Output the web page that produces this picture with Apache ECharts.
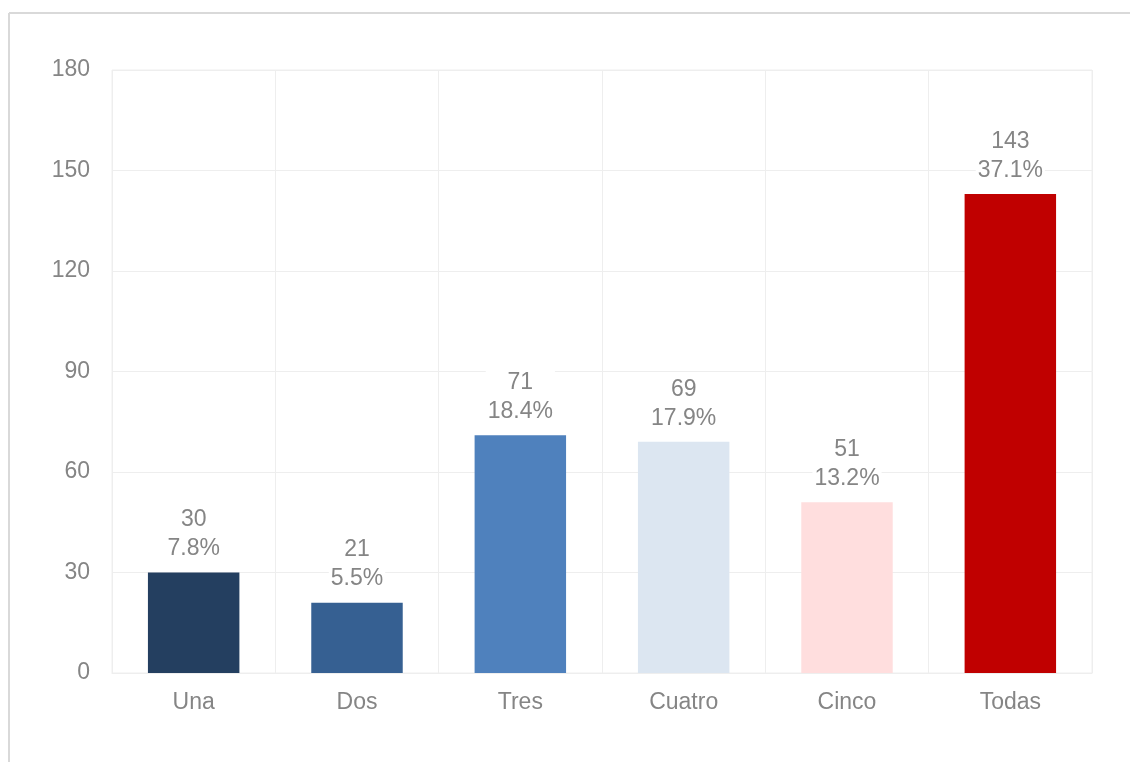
<!DOCTYPE html>
<html>
<head>
<meta charset="utf-8">
<script src="https://cdn.jsdelivr.net/npm/echarts@6/dist/echarts.min.js"></script>
<style>
html,body{margin:0;padding:0;background:#fff;}
#c{width:1130px;height:762px;}
</style>
</head>
<body>
<div id="c"></div>
<script>
const categories = ["Una", "Dos", "Tres", "Cuatro", "Cinco", "Todas"];
const counts = [30, 21, 71, 69, 51, 143];
const percents = ["7.8%", "5.5%", "18.4%", "17.9%", "13.2%", "37.1%"];
const barColors = ["#243F60", "#366092", "#4F81BD", "#DCE6F1", "#FFDEDE", "#C00000"];
const yTicks = { min: 0, max: 180, interval: 30 };

const chart = echarts.init(document.getElementById('c'), null, { renderer: 'canvas' });
const font = "'Liberation Sans', Arial, sans-serif";
chart.setOption({
  animation: false,
  backgroundColor: '#ffffff',
  graphic: [
    { type: 'line', shape: { x1: 9, y1: 13, x2: 1130, y2: 13 }, style: { stroke: '#d9d9d9', lineWidth: 2 } },
    { type: 'line', shape: { x1: 9, y1: 13, x2: 9, y2: 762 }, style: { stroke: '#d9d9d9', lineWidth: 2 } }
  ],
  grid: { left: 112, right: 38, top: 70, bottom: 89, show: true, borderColor: '#eeeeee', borderWidth: 1 },
  xAxis: {
    type: 'category',
    data: categories,
    axisLine: { show: true, lineStyle: { color: '#eeeeee' } },
    axisTick: { show: false },
    axisLabel: { color: '#858585', fontSize: 23, fontFamily: font, margin: 18 },
    splitLine: { show: true, interval: 0, lineStyle: { color: '#eeeeee' } }
  },
  yAxis: {
    type: 'value',
    min: yTicks.min, max: yTicks.max, interval: yTicks.interval,
    axisLine: { show: false },
    axisTick: { show: false },
    axisLabel: { color: '#858585', fontSize: 23, fontFamily: font, margin: 22, padding: [4, 0, 0, 0] },
    splitLine: { show: true, lineStyle: { color: '#eeeeee' } }
  },
  series: [{
    type: 'bar',
    barWidth: '56%',
    data: counts.map((v, i) => ({ value: v, itemStyle: { color: barColors[i] } })),
    label: {
      show: true,
      position: 'top',
      distance: 9,
      color: '#858585',
      fontSize: 23,
      fontFamily: font,
      lineHeight: 29,
      backgroundColor: '#ffffff',
      padding: [0, 2, 0, 2],
      formatter: p => counts[p.dataIndex] + '\n' + percents[p.dataIndex]
    }
  }]
});
</script>
</body>
</html>
